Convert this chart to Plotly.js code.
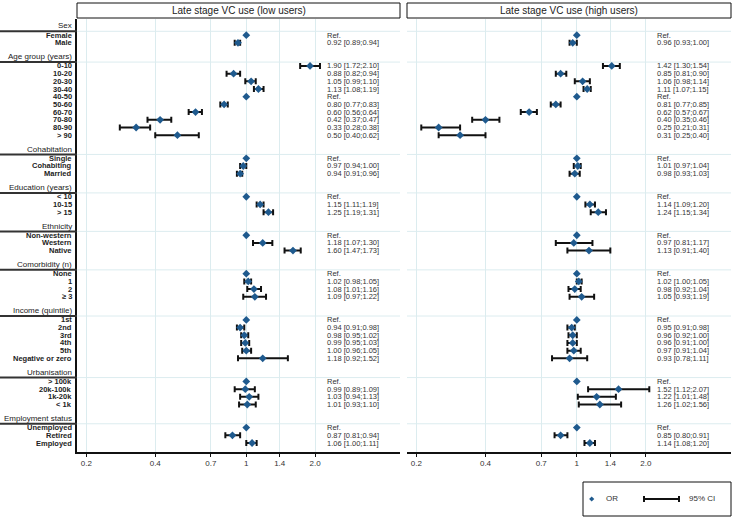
<!DOCTYPE html>
<html><head><meta charset="utf-8">
<script src="https://cdn.plot.ly/plotly-3.0.1.min.js"></script>
<style>html,body{margin:0;padding:0;background:#fff}#chart{width:732px;height:519px}</style>
</head><body><div id="chart"></div>
<script>
const groupNames = ["Sex","Age group (years)","Cohabitation","Education (years)","Ethnicity","Comorbidity (n)","Income (quintile)","Urbanisation","Employment status"];
const groupSizes = [2,10,3,3,3,4,6,4,3];
const categories = ["Female","Male","0-10","10-20","20-30","30-40","40-50","50-60","60-70","70-80","80-90","> 90","Single","Cohabiting","Married","< 10","10-15","> 15","Non-western","Western","Native","None","1","2","\u2265 3","1st","2nd","3rd","4th","5th","Negative or zero","> 100k","20k-100k","1k-20k","< 1k","Unemployed","Retired","Employed"];
// null = reference category (OR = 1)
const orLow    = [null,0.92, 1.90,0.88,1.05,1.13,null,0.80,0.60,0.42,0.33,0.50, null,0.97,0.94, null,1.15,1.25, null,1.18,1.60, null,1.02,1.08,1.09, null,0.94,0.98,0.99,1.00,1.18, null,0.99,1.03,1.01, null,0.87,1.06];
const ciLowLo  = [null,0.89, 1.72,0.82,0.99,1.08,null,0.77,0.56,0.37,0.28,0.40, null,0.94,0.91, null,1.11,1.19, null,1.07,1.47, null,0.98,1.01,0.97, null,0.91,0.95,0.95,0.96,0.92, null,0.89,0.94,0.93, null,0.81,1.00];
const ciLowHi  = [null,0.94, 2.10,0.94,1.10,1.19,null,0.83,0.64,0.47,0.38,0.62, null,1.00,0.96, null,1.19,1.31, null,1.30,1.73, null,1.05,1.16,1.22, null,0.98,1.02,1.03,1.05,1.52, null,1.09,1.13,1.10, null,0.94,1.11];
const orHigh   = [null,0.96, 1.42,0.85,1.06,1.11,null,0.81,0.62,0.40,0.25,0.31, null,1.01,0.98, null,1.14,1.24, null,0.97,1.13, null,1.02,0.98,1.05, null,0.95,0.96,0.96,0.97,0.93, null,1.52,1.22,1.26, null,0.85,1.14];
const ciHighLo = [null,0.93, 1.30,0.81,0.98,1.07,null,0.77,0.57,0.35,0.21,0.25, null,0.97,0.93, null,1.09,1.15, null,0.81,0.91, null,1.00,0.92,0.93, null,0.91,0.92,0.91,0.91,0.78, null,1.12,1.01,1.02, null,0.80,1.08];
const ciHighHi = [null,1.00, 1.54,0.90,1.14,1.15,null,0.85,0.67,0.46,0.31,0.40, null,1.04,1.03, null,1.20,1.34, null,1.17,1.40, null,1.05,1.04,1.19, null,0.98,1.00,1.00,1.04,1.11, null,2.07,1.48,1.56, null,0.91,1.20];
const tickVals = [0.2,0.4,0.7,1,1.4,2.0];
const tickText = ["0.2","0.4","0.7","1","1.4","2.0"];
const panelTitles = ["Late stage VC use (low users)","Late stage VC use (high users)"];
const refValue = 1;
const textColumnAt = 2.2;

const FONT = "Arial, 'Liberation Sans', sans-serif";
const BLUE = '#1f5a8e';
const GRID = '#dcecef';

// row layout: header, items, blank
const headerRow = [], itemRow = [];
let r = 0;
groupSizes.forEach(n => { headerRow.push(r); r++; for (let i=0;i<n;i++){ itemRow.push(r); r++; } r++; });
const lastRow = itemRow[itemRow.length-1];

function fmt(v){ return v.toFixed(2); }
function panelTrace(or, lo, hi, xa){
  const x = or.map(v => v===null ? refValue : v);
  return {
    type:'scatter', mode:'markers', xaxis:xa, yaxis:'y',
    x: x, y: itemRow,
    marker:{symbol:'diamond', size:6, color:BLUE},
    error_x:{type:'data', symmetric:false,
      array: or.map((v,i)=> v===null ? NaN : hi[i]-v),
      arrayminus: or.map((v,i)=> v===null ? NaN : v-lo[i]),
      color:'#111', thickness:2, width:3},
    hoverinfo:'skip', showlegend:false
  };
}
const traces = [panelTrace(orLow,ciLowLo,ciLowHi,'x'), panelTrace(orHigh,ciHighLo,ciHighHi,'x2')];

const plotW = 654, plotH = 433;
const shapes = [], annotations = [];
const xrefs = ['x','x2'];
const sets = [[orLow,ciLowLo,ciLowHi],[orHigh,ciHighLo,ciHighHi]];

headerRow.forEach((hr,g) => {
  shapes.push({type:'line', xref:'paper', yref:'y', x0:-77/plotW, x1:0, y0:hr+0.5, y1:hr+0.5, line:{color:'#333', width:2}, layer:'above'});
  xrefs.forEach(xr => shapes.push({type:'line', xref:xr+' domain', yref:'y', x0:0, x1:1, y0:hr+0.5, y1:hr+0.5, line:{color:GRID, width:1}, layer:'below'}));
  annotations.push({xref:'paper', yref:'y', x:0, y:hr, xanchor:'right', yanchor:'middle', xshift:-3, yshift:1.5, showarrow:false,
    text:groupNames[g], font:{family:FONT, size:8, color:'#222'}});
});
categories.forEach((c,i) => {
  annotations.push({xref:'paper', yref:'y', x:0, y:itemRow[i], xanchor:'right', yanchor:'middle', xshift:-3, showarrow:false,
    text:'<b>'+c+'</b>', font:{family:FONT, size:7.5, color:'#222'}});
  sets.forEach((s,p) => {
    const v = s[0][i];
    annotations.push({xref:xrefs[p], yref:'y', x:Math.log10(textColumnAt), y:itemRow[i], xanchor:'left', yanchor:'middle', showarrow:false,
      text: v===null ? 'Ref.' : fmt(v)+' ['+fmt(s[1][i])+';'+fmt(s[2][i])+']', font:{family:FONT, size:7.5, color:'#333'}});
  });
});
xrefs.forEach((xr,p) => {
  shapes.push({type:'line', xref:xr, yref:'y domain', x0:Math.log10(refValue), x1:Math.log10(refValue), y0:0, y1:1, line:{color:'#111', width:2}, layer:'below'});
  shapes.push({type:'rect', xref:xr+' domain', yref:'paper', ysizemode:'pixel', yanchor:1, x0:0, x1:1, y0:1, y1:16, line:{color:'#111', width:1}, fillcolor:'rgba(0,0,0,0)'});
  annotations.push({xref:xr+' domain', yref:'paper', x:0.5, y:1, yshift:9, xanchor:'center', yanchor:'middle', showarrow:false,
    text:panelTitles[p], font:{family:FONT, size:10, color:'#222'}});
});

// legend box
const px = v => (v-77)/plotW, py = v => (452-v)/plotH;
shapes.push({type:'rect', xref:'paper', yref:'paper', x0:px(583), x1:px(731), y0:py(482), y1:py(516), line:{color:'#111', width:1}});
const dcx = px(591.7), dcy = py(499), ddx = 2.6/plotW, ddy = 2.6/plotH;
shapes.push({type:'path', xref:'paper', yref:'paper', path:`M ${dcx},${dcy+ddy} L ${dcx+ddx},${dcy} L ${dcx},${dcy-ddy} L ${dcx-ddx},${dcy} Z`, fillcolor:BLUE, line:{width:0}});
shapes.push({type:'line', xref:'paper', yref:'paper', x0:px(644), x1:px(679), y0:dcy, y1:dcy, line:{color:'#111', width:2}});
[644,679].forEach(v => shapes.push({type:'line', xref:'paper', yref:'paper', x0:px(v), x1:px(v), y0:dcy-3/plotH, y1:dcy+3/plotH, line:{color:'#111', width:2}}));
annotations.push({xref:'paper', yref:'paper', x:px(604), y:dcy, xanchor:'left', yanchor:'middle', showarrow:false, text:'OR', font:{family:FONT, size:8, color:'#333'}});
annotations.push({xref:'paper', yref:'paper', x:px(687), y:dcy, xanchor:'left', yanchor:'middle', showarrow:false, text:'95% CI', font:{family:FONT, size:8, color:'#333'}});

const xBase = {type:'log', range:[-0.74,0.672], tickmode:'array', tickvals:tickVals, ticktext:tickText,
  showgrid:true, gridcolor:GRID, gridwidth:1, showline:true, linecolor:'#111', linewidth:1.5,
  ticks:'outside', ticklen:3, tickwidth:1, tickcolor:'#111', tickfont:{family:FONT, size:8, color:'#333'},
  zeroline:false, fixedrange:true, anchor:'y'};
const layout = {
  width:732, height:519, margin:{l:77, r:1, t:19, b:67}, paper_bgcolor:'#fff', plot_bgcolor:'#fff',
  showlegend:false, font:{family:FONT},
  xaxis:Object.assign({}, xBase, {domain:[0, 323/plotW]}),
  xaxis2:Object.assign({}, xBase, {domain:[330/plotW, 1]}),
  yaxis:{range:[lastRow+1.17, -1.1], showgrid:false, showticklabels:false, ticks:'', zeroline:false,
    showline:true, linecolor:'#111', linewidth:2, fixedrange:true},
  shapes:shapes, annotations:annotations
};
Plotly.newPlot('chart', traces, layout, {displayModeBar:false, staticPlot:true});
</script></body></html>
